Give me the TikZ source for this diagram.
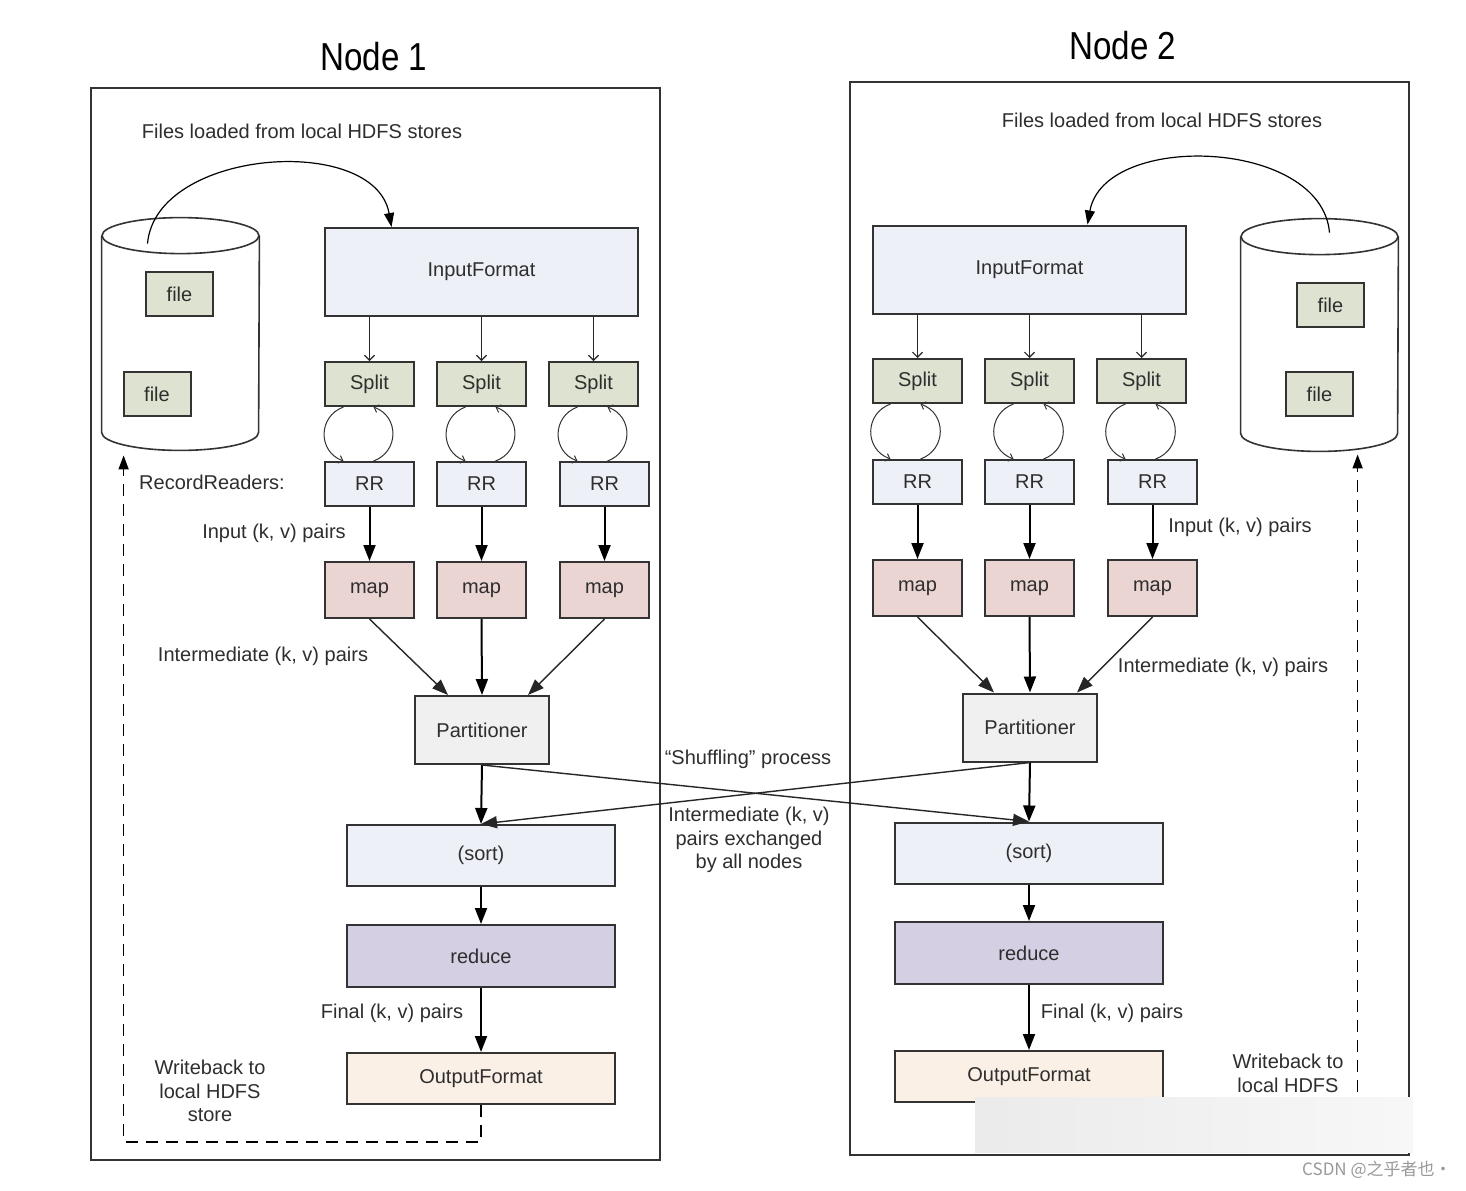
\documentclass[tikz,border=0pt]{standalone}
\usepackage{fontspec}
\setmainfont{Liberation Sans}
\newfontfamily\tituloFuente[FakeStretch=0.85]{Liberation Sans}
\newfontfamily\cjk{Noto Sans CJK SC}
\usetikzlibrary{arrows.meta,calc}
\definecolor{hdBorde}{HTML}{333333}
\definecolor{hdTexto}{HTML}{2E2E2E}
\definecolor{hdEntrada}{HTML}{EDF0F6}
\definecolor{hdSplit}{HTML}{DEE3D1}
\definecolor{hdMap}{HTML}{EAD5D2}
\definecolor{hdPart}{HTML}{F0F0F0}
\definecolor{hdReduce}{HTML}{D4CFE3}
\definecolor{hdSalida}{HTML}{FBF0E5}
\tikzset{
  caja/.style={rectangle, draw=hdBorde, line width=1pt, text=hdTexto,
    font=\fontsize{10}{12}\selectfont, inner sep=0pt},
  trozo/.style={caja, fill=hdSplit, minimum width=44.5pt, minimum height=22pt},
  lector/.style={caja, fill=hdEntrada, minimum width=44.5pt, minimum height=22pt},
  mapa/.style={caja, fill=hdMap, minimum width=44.5pt, minimum height=28pt},
  formatoEnt/.style={caja, fill=hdEntrada, minimum width=156.5pt, minimum height=44pt},
  particion/.style={caja, fill=hdPart, minimum width=67pt, minimum height=34pt},
  orden/.style={caja, fill=hdEntrada, minimum width=134pt, minimum height=30.5pt},
  reductor/.style={caja, fill=hdReduce, minimum width=134pt, minimum height=31pt},
  salida/.style={caja, fill=hdSalida, minimum width=134pt, minimum height=25.5pt},
  fichero/.style={caja, fill=hdSplit, minimum width=33.5pt, minimum height=22pt},
  marco/.style={rectangle, draw=hdBorde, line width=1pt, inner sep=0pt},
  almacen/.style={rectangle, inner sep=0pt, minimum width=78.5pt, minimum height=116pt},
  cilindro/.style={draw=hdBorde, line width=0.8pt},
  etiqueta/.style={text=hdTexto, font=\fontsize{10}{11.8}\selectfont, align=center, inner sep=0pt},
  titulo/.style={text=black, font=\tituloFuente\fontsize{19.5}{23}\selectfont, inner sep=0pt},
  flechaKV/.style={-{Triangle[length=8pt,width=6pt]}, line width=1pt, black},
  flechaDiag/.style={-{Triangle[length=8pt,width=6pt]}, line width=0.7pt, black!85},
  flechaFina/.style={-{Straight Barb[length=2.5pt,width=5pt]}, line width=0.6pt, black!85},
  flechaCurva/.style={-{Triangle[length=7pt,width=5pt]}, line width=0.6pt, black},
  flechaLazo/.style={-{Straight Barb[length=2pt,width=4pt]}, line width=0.5pt, black!80},
  retorno/.style={-{Triangle[length=7pt,width=5pt]}, line width=0.8pt, black, dash pattern=on 6pt off 4pt},
}

\begin{document}
\begin{tikzpicture}[x=0.5pt, y=-0.5pt]
  \fill[white] (0,0) rectangle (1466,1190);
  \useasboundingbox (0,0) rectangle (1466,1190);

  % marcos de los dos nodos
  \node[marco, minimum width=284.5pt, minimum height=536pt] (n1) at (375.5,624) {};
  \node[marco, minimum width=279.5pt, minimum height=536.5pt] (n2) at (1129.5,618.5) {};
  \node[titulo] (t1) at (374,57) {Node 1};
  \node[titulo] (t2) at (1123,46) {Node 2};
  \node[etiqueta] (hdfs1) at (302,131) {Files loaded from local HDFS stores};
  \node[etiqueta] (hdfs2) at (1162,120) {Files loaded from local HDFS stores};

  % Node 1
  \node[almacen] (db1) at (180.5,334) {};
  \draw[cilindro, fill=white] ($(db1.north west)+(0,18)$) -- ($(db1.south west)+(0,-18)$)
    arc[start angle=180, end angle=360, x radius=39.25pt, y radius=9pt] -- ($(db1.north east)+(0,18)$);
  \draw[cilindro] ($(db1.north)+(0,18)$) ellipse[x radius=39.25pt, y radius=9pt];
  \node[fichero] (f11) at (179.5,294) {file};
  \node[fichero] (f12) at (157,394) {file};

  \node[formatoEnt] (if1) at (481.5,272) {InputFormat};
  \node[trozo] (s11) at (369.5,384) {Split};
  \node[trozo] (s12) at (481.5,384) {Split};
  \node[trozo] (s13) at (593.5,384) {Split};
  \node[lector] (r11) at (369.5,484) {RR};
  \node[lector] (r12) at (481.5,484) {RR};
  \node[lector] (r13) at (604.5,484) {RR};
  \node[mapa] (m11) at (369.5,590) {map};
  \node[mapa] (m12) at (481.5,590) {map};
  \node[mapa] (m13) at (604.5,590) {map};
  \node[particion] (p1) at (482,730) {Partitioner};
  \node[orden] (so1) at (481,855.5) {(sort)};
  \node[reductor] (re1) at (481,956) {reduce};
  \node[salida] (of1) at (481,1078.5) {OutputFormat};

  \node[etiqueta] (rr1) at (212,482) {RecordReaders:};
  \node[etiqueta] (in1) at (274,533) {Input (k, v) pairs};
  \node[etiqueta] (im1) at (263,656) {Intermediate (k, v) pairs};
  \node[etiqueta] (fi1) at (392,1013) {Final (k, v) pairs};
  \node[etiqueta] (wb1) at (210,1091) {Writeback to\\local HDFS\\store};

  \coordinate (c1) at ($(db1.north)+(-33,26)$);
  \draw[flechaCurva] (c1) to[out=85, in=100, looseness=1.0] ($(if1.north)+(-90,0)$);
  \draw[flechaFina] (if1.south -| s11.north) -- (s11.north);
  \draw[flechaFina] (if1.south -| s12.north) -- (s12.north);
  \draw[flechaFina] (if1.south -| s13.north) -- (s13.north);
  \draw[flechaLazo] ($(s11.south)+(-26,0)$) to[out=200, in=160, looseness=1.3] ($(s11.south |- r11.north)+(-26,0)$);
  \draw[flechaLazo] ($(s11.south |- r11.north)+(4,0)$) to[out=20, in=-20, looseness=1.3] ($(s11.south)+(4,0)$);
  \draw[flechaLazo] ($(s12.south)+(-16,0)$) to[out=200, in=160, looseness=1.3] ($(s12.south |- r12.north)+(-16,0)$);
  \draw[flechaLazo] ($(s12.south |- r12.north)+(14,0)$) to[out=20, in=-20, looseness=1.3] ($(s12.south)+(14,0)$);
  \draw[flechaLazo] ($(s13.south)+(-16,0)$) to[out=200, in=160, looseness=1.3] ($(s13.south |- r13.north)+(-16,0)$);
  \draw[flechaLazo] ($(s13.south |- r13.north)+(14,0)$) to[out=20, in=-20, looseness=1.3] ($(s13.south)+(14,0)$);
  \draw[flechaKV] (r11) -- (m11);
  \draw[flechaKV] (r12) -- (m12);
  \draw[flechaKV] (r13) -- (m13);
  \draw[flechaDiag] (m11.south) -- ($(p1.north)+(-34,0)$);
  \draw[flechaKV] (m12.south) -- (p1.north);
  \draw[flechaDiag] (m13.south) -- ($(p1.north)+(46,0)$);
  \draw[flechaKV] (p1.south) -- (so1.north);
  \draw[flechaKV] (so1) -- (re1);
  \draw[flechaKV] (re1) -- (of1);
  \draw[retorno] (of1.south) -- ++(0,37) -| ($(db1.south west)+(22,5)$);

  % Node 2
  \node[almacen] (db2) at (1319.5,335) {};
  \draw[cilindro, fill=white] ($(db2.north west)+(0,18)$) -- ($(db2.south west)+(0,-18)$)
    arc[start angle=180, end angle=360, x radius=39.25pt, y radius=9pt] -- ($(db2.north east)+(0,18)$);
  \draw[cilindro] ($(db2.north)+(0,18)$) ellipse[x radius=39.25pt, y radius=9pt];
  \node[fichero] (f21) at (1330.5,305) {file};
  \node[fichero] (f22) at (1319.5,394) {file};

  \node[formatoEnt] (if2) at (1029.5,269.5) {InputFormat};
  \node[trozo] (s21) at (917.5,381) {Split};
  \node[trozo] (s22) at (1029.5,381) {Split};
  \node[trozo] (s23) at (1141.5,381) {Split};
  \node[lector] (r21) at (917.5,482) {RR};
  \node[lector] (r22) at (1029.5,482) {RR};
  \node[lector] (r23) at (1152.5,482) {RR};
  \node[mapa] (m21) at (917.5,588) {map};
  \node[mapa] (m22) at (1029.5,588) {map};
  \node[mapa] (m23) at (1152.5,588) {map};
  \node[particion] (p2) at (1030,727.5) {Partitioner};
  \node[orden] (so2) at (1029,853) {(sort)};
  \node[reductor] (re2) at (1029,953) {reduce};
  \node[salida] (of2) at (1029,1076.5) {OutputFormat};

  \node[etiqueta] (in2) at (1240,527) {Input (k, v) pairs};
  \node[etiqueta] (im2) at (1223,667) {Intermediate (k, v) pairs};
  \node[etiqueta] (fi2) at (1112,1013) {Final (k, v) pairs};
  \node[etiqueta] (wb2) at (1288,1085) {Writeback to\\local HDFS\\store};

  \coordinate (c2) at ($(db2.north)+(10,14)$);
  \draw[flechaCurva] (c2) to[out=95, in=80, looseness=1.0] ($(if2.north)+(58,0)$);
  \draw[flechaFina] (if2.south -| s21.north) -- (s21.north);
  \draw[flechaFina] (if2.south -| s22.north) -- (s22.north);
  \draw[flechaFina] (if2.south -| s23.north) -- (s23.north);
  \draw[flechaLazo] ($(s21.south)+(-27,0)$) to[out=200, in=160, looseness=1.3] ($(s21.south |- r21.north)+(-27,0)$);
  \draw[flechaLazo] ($(s21.south |- r21.north)+(3,0)$) to[out=20, in=-20, looseness=1.3] ($(s21.south)+(3,0)$);
  \draw[flechaLazo] ($(s22.south)+(-16,0)$) to[out=200, in=160, looseness=1.3] ($(s22.south |- r22.north)+(-16,0)$);
  \draw[flechaLazo] ($(s22.south |- r22.north)+(14,0)$) to[out=20, in=-20, looseness=1.3] ($(s22.south)+(14,0)$);
  \draw[flechaLazo] ($(s23.south)+(-16,0)$) to[out=200, in=160, looseness=1.3] ($(s23.south |- r23.north)+(-16,0)$);
  \draw[flechaLazo] ($(s23.south |- r23.north)+(14,0)$) to[out=20, in=-20, looseness=1.3] ($(s23.south)+(14,0)$);
  \draw[flechaKV] (r21) -- (m21);
  \draw[flechaKV] (r22) -- (m22);
  \draw[flechaKV] (r23) -- (m23);
  \draw[flechaDiag] (m21.south) -- ($(p2.north)+(-36,0)$);
  \draw[flechaKV] (m22.south) -- (p2.north);
  \draw[flechaDiag] (m23.south) -- ($(p2.north)+(47,0)$);
  \draw[flechaKV] (p2.south) -- (so2.north);
  \draw[flechaKV] (so2) -- (re2);
  \draw[flechaKV] (re2) -- (of2);
  \draw[retorno] (of2.south) -- ++(0,40) -| ($(db2.south west)+(117,3)$);

  % intercambio entre nodos
  \node[etiqueta] (sh) at (748,759) {``Shuffling'' process};
  \node[etiqueta] (ex) at (749,840) {Intermediate (k, v)\\pairs exchanged\\by all nodes};
  \draw[flechaDiag] (p1.south) -- (so2.north);
  \draw[flechaDiag] (p2.south) -- (so1.north);

  % sello de la imagen
  \shade[left color=black!8, right color=black!3] (975,1097) rectangle (1413,1152);
  \node[text=black!40, font=\cjk\fontsize{8.5}{10}\selectfont, anchor=east, inner sep=0pt] (csdn) at (1452,1170) {CSDN @之乎者也·};
\end{tikzpicture}
\end{document}
